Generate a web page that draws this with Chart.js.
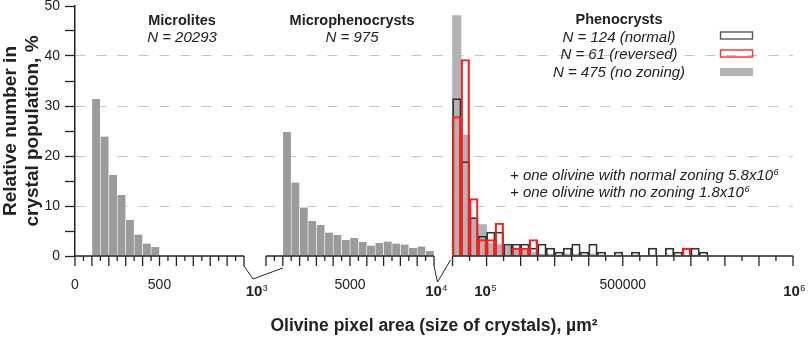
<!DOCTYPE html>
<html>
<head>
<meta charset="utf-8">
<script src="https://cdn.jsdelivr.net/npm/chart.js@4.4.0/dist/chart.umd.min.js"></script>
<style>
  body { margin: 0; background: #fff; }
  #wrap { width: 809px; height: 338px; }
</style>
</head>
<body>
<div id="wrap"><canvas id="graph_olivine" width="809" height="338"></canvas></div>
<script>
// --- data (percent of crystals per size bin, lower bin edge in µm²) ---
const microliteBins = [100, 150, 200, 250, 300, 350, 400, 450];
const microliteValues = [31.4, 23.9, 16.2, 12.2, 7.2, 4.3, 2.5, 1.8];

const microphenoBins = [1000, 1500, 2000, 2500, 3000, 3500, 4000, 4500, 5000,
    5500, 6000, 6500, 7000, 7500, 8000, 8500, 9000, 9500];
const microphenoValues = [24.8, 14.7, 9.7, 7.0, 6.2, 4.7, 4.2, 3.2, 3.6,
    2.8, 2.1, 2.6, 2.9, 2.5, 2.3, 1.6, 1.9, 1.0];

const phenoBins = [0, 25000, 50000, 75000, 100000, 125000, 150000, 175000, 200000, 225000,
    250000, 275000, 300000, 325000, 350000, 375000, 400000, 425000, 450000, 475000,
    500000, 525000, 550000, 575000, 600000, 625000, 650000, 675000, 700000, 725000];
const normalValues = [31.5, 18.9, 7.7, 4.0, 4.8, 4.8, 2.4, 2.4, 2.4, 1.6,
    2.4, 1.6, 0.8, 1.6, 2.4, 0.8, 2.4, 0.8, 0, 0.8,
    0, 0.8, 0, 1.6, 0, 1.6, 0.8, 1.6, 1.6, 0.8];
const reversedValues = [27.9, 39.3, 11.5, 3.3, 3.3, 6.6, 0, 1.6, 1.6, 3.3,
    0, 0, 0, 0, 0, 0, 0, 0, 0, 0,
    0, 0, 0, 0, 0, 0, 0, 1.6, 0, 0];
const noZoningValues = [48.1, 24.2, 7.6, 6.3, 2.5, 2.3, 2.0, 1.6, 1.2, 0.7,
    0.4, 0.4, 0.2, 0.4, 0.4, 0.2, 0.4, 0.2, 0, 0.2,
    0, 0.2, 0, 0.2, 0, 0.2, 0, 0, 0.2, 0];

const binWidths = { xa: 50, xb: 500, xc: 25000 };

// tick labels
const yTickValues = [0, 10, 20, 30, 40, 50];
const plainTickLabels = [['xa', 0, '0'], ['xa', 500, '500'], ['xb', 5000, '5000'], ['xc', 500000, '500000']];
const powerTickLabels = [['xa', 1000, '10', '3', 12.5], ['xb', 10000, '10', '4', 2], ['xc', 100000, '10', '5', -1.5], ['xc', 1000000, '10', '6', 1]];

// --- layout of the broken x axis ---
const FONT = '"Liberation Sans", Arial, sans-serif';
const panelAxes = [
    { id: 'xa', from: 0, to: 1000, minor: 50, seg: [0, 0.2354] },
    { id: 'xb', from: 0, to: 10000, minor: 500, seg: [0.2660, 0.5000] },
    { id: 'xc', from: 0, to: 1000000, minor: 50000, seg: [0.5258, 1.0] }
];

const panelScale = (p) => {
    const span = (p.to - p.from) / (p.seg[1] - p.seg[0]);
    const min = p.from - p.seg[0] * span;
    return { type: 'linear', display: false, offset: false, bounds: 'data', min: min, max: min + span, ticks: { maxTicksLimit: 4 } };
};

const toPoints = (bins, width, values) => bins.map((b, i) => ({ x: b + width / 2, y: values[i] }));

const drawPower = (ctx, base, exp, cx, cy, weight) => {
    ctx.font = `${weight} 15px ${FONT}`;
    const wb = ctx.measureText(base).width;
    ctx.font = `9px ${FONT}`;
    const we = ctx.measureText(exp).width;
    const x0 = cx - (wb + we) / 2;
    ctx.textAlign = 'left';
    ctx.textBaseline = 'middle';
    ctx.font = `${weight} 15px ${FONT}`;
    ctx.fillText(base, x0, cy);
    ctx.font = `9px ${FONT}`;
    ctx.fillText(exp, x0 + wb + 0.5, cy - 3);
};

const brokenAxisPlugin = {
    id: 'brokenAxis',
    afterDatasetsDraw(chart) {
        const ctx = chart.ctx;
        const y0 = chart.chartArea.bottom;
        const px = (id, v) => chart.scales[id].getPixelForValue(v);
        ctx.save();
        ctx.strokeStyle = '#222';
        ctx.fillStyle = '#222';

        // axis lines and ticks for each panel
        panelAxes.forEach((p) => {
            ctx.lineWidth = 1.5;
            ctx.beginPath();
            ctx.moveTo(px(p.id, p.from), y0);
            ctx.lineTo(px(p.id, p.to), y0);
            ctx.stroke();
            ctx.lineWidth = 1.3;
            const n = Math.round((p.to - p.from) / p.minor);
            for (let i = 0; i <= n; i++) {
                const x = px(p.id, p.from + i * p.minor);
                ctx.beginPath();
                ctx.moveTo(x, y0);
                ctx.lineTo(x, y0 + (i % 2 === 0 ? 10 : 5));
                ctx.stroke();
            }
        });

        // break marks
        ctx.lineWidth = 1;
        const a = px('xa', 1000), b = px('xb', 1000);
        ctx.beginPath();
        ctx.moveTo(a, y0 + 10);
        ctx.lineTo(a + 9, y0 + 23);
        ctx.lineTo(b, y0 + 12);
        ctx.stroke();
        const c = px('xb', 10000), d = px('xc', 0);
        ctx.beginPath();
        ctx.moveTo(c, y0 + 10);
        ctx.lineTo(c + 3.5, y0 + 26);
        ctx.lineTo(d - 2, y0 + 4);
        ctx.stroke();

        // tick labels
        ctx.font = `14px ${FONT}`;
        ctx.textAlign = 'center';
        ctx.textBaseline = 'middle';
        plainTickLabels.forEach(([id, v, t]) => ctx.fillText(t, px(id, v), y0 + 29.5));
        powerTickLabels.forEach(([id, v, base, exp, dx]) => drawPower(ctx, base, exp, px(id, v) + dx, y0 + 35.5, 'bold'));

        // group titles
        ctx.textAlign = 'center';
        ctx.font = `bold 14.5px ${FONT}`;
        ctx.fillText('Microlites', 182, 21);
        ctx.fillText('Microphenocrysts', 352, 21);
        ctx.fillText('Phenocrysts', 619, 20);
        ctx.font = `italic 15px ${FONT}`;
        ctx.fillText('N = 20293', 182, 37.5);
        ctx.fillText('N = 975', 352, 37.5);
        ctx.fillText('N = 124 (normal)', 619, 37.5);
        ctx.fillText('N = 61 (reversed)', 619, 55);
        ctx.fillText('N = 475 (no zoning)', 619, 72.5);

        // legend swatches
        ctx.lineWidth = 1.4;
        ctx.strokeStyle = '#555';
        ctx.strokeRect(720.5, 32, 32, 7);
        ctx.strokeStyle = '#ff2a2a';
        ctx.strokeRect(720.5, 50, 32, 7);
        ctx.fillStyle = '#b3b3b3';
        ctx.fillRect(720, 68, 33, 8);

        // notes
        ctx.fillStyle = '#222';
        ctx.textAlign = 'left';
        const notes = [['+ one olivine with normal zoning 5.8x10', '6', 176], ['+ one olivine with no zoning 1.8x10', '6', 193]];
        notes.forEach(([t, e, y]) => {
            ctx.font = `italic 15px ${FONT}`;
            ctx.fillText(t, 510, y);
            const w = ctx.measureText(t).width;
            ctx.font = `italic 9px ${FONT}`;
            ctx.fillText(e, 510 + w + 0.5, y - 4);
        });
        ctx.restore();
    }
};

const scales = {
    x: {
        type: 'linear', min: 0, max: 1, position: 'bottom',
        ticks: { display: false },
        grid: { display: false, drawTicks: false },
        border: { display: false },
        title: {
            display: true,
            text: 'Olivine pixel area (size of crystals), µm²',
            color: '#222',
            font: { family: FONT, size: 17.5, weight: 'bold' },
            padding: { top: 0, bottom: 1 }
        },
        afterFit: (s) => { s.height = 82; }
    },
    y: {
        min: 0, max: 50,
        ticks: {
            stepSize: 5, padding: 5, color: '#222',
            font: { family: FONT, size: 14 },
            callback: (v) => (yTickValues.includes(v) ? v : '')
        },
        grid: {
            color: (ctx) => (ctx.tick && ctx.tick.value % 10 === 0 && ctx.tick.value > 0 && ctx.tick.value < 50) ? '#c4c4c4' : 'transparent',
            tickColor: '#222', tickLength: 10, tickWidth: 1.3, lineWidth: 1
        },
        border: { color: '#222', width: 1.5, dash: [10, 11] },
        title: {
            display: true,
            text: ['Relative number in', 'crystal population, %'],
            color: '#222',
            font: { family: FONT, size: 19, weight: 'bold', lineHeight: 1.15 },
            padding: { top: 0, bottom: 0 }
        },
        afterFit: (s) => { s.width = 75; s.paddingTop = 6; s.paddingBottom = 0; }
    }
};
panelAxes.forEach((p) => { scales[p.id] = panelScale(p); });

const graph_olivine = document.getElementById('graph_olivine').getContext('2d');
const olivine = new Chart(graph_olivine, {
    type: 'bar',
    data: {
        datasets: [
            {
                label: 'Microlites', xAxisID: 'xa', order: 4,
                data: toPoints(microliteBins, binWidths.xa, microliteValues),
                backgroundColor: '#9b9b9b', borderColor: 'rgba(255,255,255,0.85)',
                borderWidth: { left: 0.6, right: 0.6, top: 0, bottom: 0 }
            },
            {
                label: 'Microphenocrysts', xAxisID: 'xb', order: 4,
                data: toPoints(microphenoBins, binWidths.xb, microphenoValues),
                backgroundColor: '#9b9b9b', borderColor: 'rgba(255,255,255,0.85)',
                borderWidth: { left: 0.6, right: 0.6, top: 0, bottom: 0 }
            },
            {
                label: 'N = 475 (no zoning)', xAxisID: 'xc', order: 3,
                data: toPoints(phenoBins, binWidths.xc, noZoningValues),
                backgroundColor: '#b3b3b3', borderWidth: 0
            },
            {
                label: 'N = 124 (normal)', xAxisID: 'xc', order: 2,
                data: toPoints(phenoBins, binWidths.xc, normalValues),
                backgroundColor: 'rgba(0,0,0,0)', borderColor: '#333', borderWidth: 1.1
            },
            {
                label: 'N = 61 (reversed)', xAxisID: 'xc', order: 1,
                data: toPoints(phenoBins, binWidths.xc, reversedValues),
                backgroundColor: 'rgba(0,0,0,0)', borderColor: '#ff1a1a', borderWidth: 1.5
            }
        ]
    },
    options: {
        responsive: false,
        animation: false,
        devicePixelRatio: 1,
        layout: { padding: { left: 0, right: 16, top: 0, bottom: 0 } },
        datasets: { bar: { barPercentage: 1, categoryPercentage: 1, grouped: false } },
        plugins: { legend: { display: false }, tooltip: { enabled: false } },
        scales: scales
    },
    plugins: [brokenAxisPlugin]
});
</script>
</body>
</html>
